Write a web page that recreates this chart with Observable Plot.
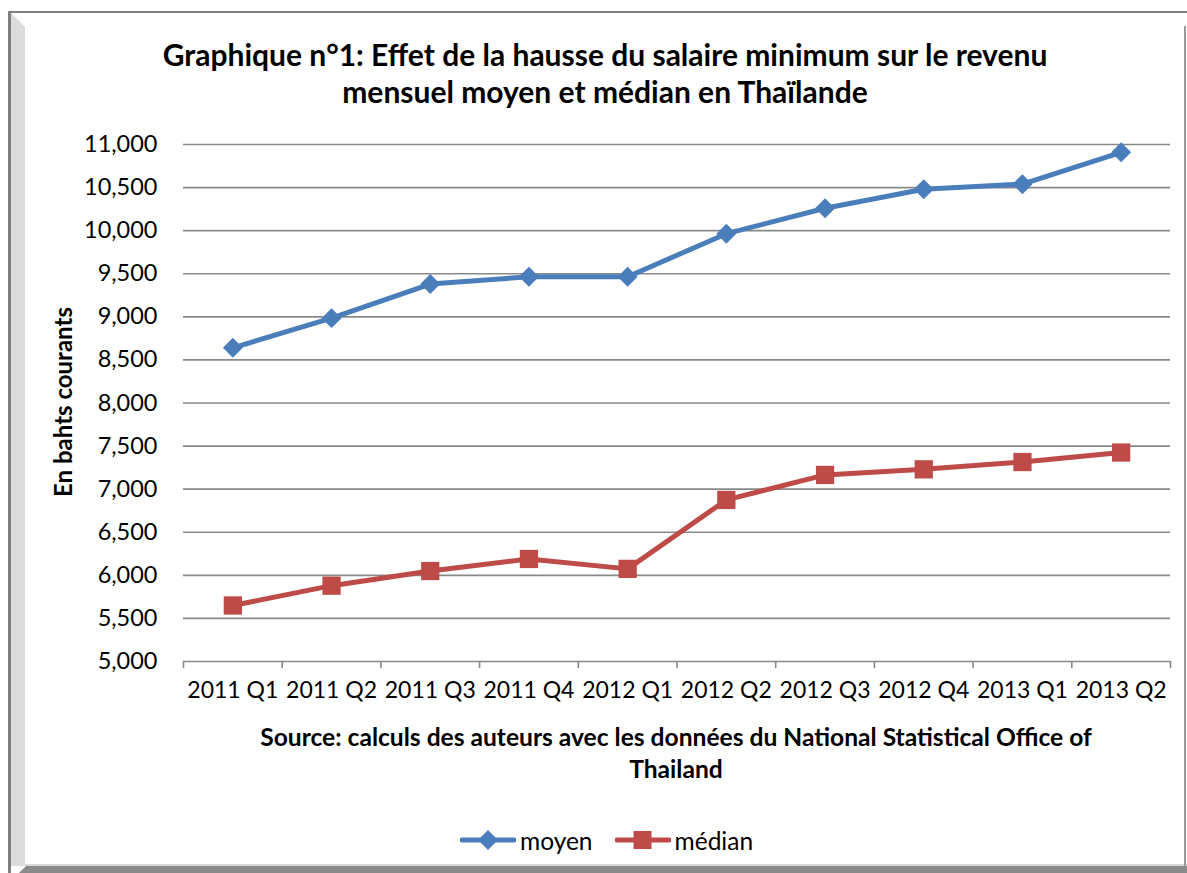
<!DOCTYPE html>
<html>
<head>
<meta charset="utf-8">
<script src="https://cdn.jsdelivr.net/npm/d3@7"></script>
<script src="https://cdn.jsdelivr.net/npm/@observablehq/plot@0.6"></script>
<style>
  html, body { margin: 0; padding: 0; background: #fff; }
  #wrap { position: relative; width: 1187px; height: 873px; overflow: hidden; font-family: Lato, "Open Sans", sans-serif; color: #000; }
  #deco { position: absolute; left: 0; top: 0; }
  #chart { position: absolute; left: 0; top: 0; }
  .title { position: absolute; left: 55px; width: 1100px; top: 36px; text-align: center; font-weight: bold; font-size: 30px; line-height: 37px; }
  .ylab { position: absolute; left: 62px; top: 402px; transform: translate(-50%, -50%) rotate(-90deg); white-space: nowrap; font-weight: bold; font-size: 24px; }
  .src { position: absolute; left: 126px; width: 1100px; top: 721px; text-align: center; font-weight: bold; font-size: 24.6px; line-height: 32px; }
  .legend { position: absolute; left: 460px; top: 824px; height: 32px; display: flex; align-items: center; font-size: 24.5px; }
  .legend svg { display: block; }
</style>
</head>
<body>
<div id="wrap">
  <svg id="deco" width="1187" height="873">
    <rect x="8" y="11" width="1179" height="2" fill="#7f7f7f"/>
    <rect x="8" y="11" width="3" height="862" fill="#7f7f7f"/>
    <polygon points="11,13 25,27 25,866 11,866" fill="#dcdcdc"/>
    <polygon points="19,873 26,866 1187,866 1187,873" fill="#8a8a8a"/>
    <rect x="25" y="864" width="1162" height="2" fill="#d8d8d8"/>
    <rect x="1184" y="26" width="2" height="840" fill="#9a9a9a"/>
  </svg>
  <div id="chart"></div>
  <div class="title">Graphique n°1: Effet de la hausse du salaire minimum sur le revenu<br>mensuel moyen et médian en Thaïlande</div>
  <div class="ylab">En bahts courants</div>
  <div class="src">Source: calculs des auteurs avec les données du National Statistical Office of<br>Thailand</div>
  <div class="legend" id="legend"></div>
</div>
<script>
const quarters = ["2011 Q1", "2011 Q2", "2011 Q3", "2011 Q4", "2012 Q1", "2012 Q2", "2012 Q3", "2012 Q4", "2013 Q1", "2013 Q2"];
const moyen = [8640, 8985, 9380, 9465, 9465, 9965, 10260, 10480, 10540, 10910];
const median = [5650, 5880, 6050, 6190, 6075, 6875, 7165, 7230, 7315, 7425];
const yTicks = [5000, 5500, 6000, 6500, 7000, 7500, 8000, 8500, 9000, 9500, 10000, 10500, 11000];
const seriesNames = ["moyen", "médian"];
const colors = ["#4A7EBB", "#BE4B48"];

const rows = quarters.map((q, i) => ({i, q, moyen: moyen[i], median: median[i]}));
const idx = quarters.map((_, i) => i);
const bounds = quarters.map((_, i) => i - 0.5).concat([quarters.length - 0.5]);

const chart = Plot.plot({
  width: 1187,
  height: 873,
  marginTop: 144,
  marginBottom: 212,
  marginLeft: 183,
  marginRight: 17,
  style: {fontFamily: "Lato, 'Open Sans', sans-serif", background: "none", color: "#000"},
  x: {domain: [-0.5, quarters.length - 0.5], axis: null},
  y: {domain: [yTicks[0], yTicks[yTicks.length - 1]], axis: null},
  marks: [
    Plot.gridY(yTicks, {stroke: "#898989", strokeOpacity: 1, strokeWidth: 1.6}),
    Plot.axisY(yTicks, {tickSize: 0, tickPadding: 26, tickFormat: d3.format(","), fontSize: 23.5, label: null}),
    Plot.axisX(bounds, {tickSize: 7, tickFormat: () => "", stroke: "#898989", strokeWidth: 1.6, label: null}),
    Plot.axisX(idx, {tickSize: 0, tickPadding: 20, tickFormat: i => quarters[i], fontSize: 23, label: null}),
    Plot.line(rows, {x: "i", y: "moyen", stroke: colors[0], strokeWidth: 5}),
    Plot.dot(rows, {x: "i", y: "moyen", symbol: "diamond2", r: 9, fill: colors[0], stroke: "none"}),
    Plot.line(rows, {x: "i", y: "median", stroke: colors[1], strokeWidth: 5}),
    Plot.dot(rows, {x: "i", y: "median", symbol: "square", r: 10.3, fill: colors[1], stroke: "none"})
  ]
});
document.getElementById("chart").appendChild(chart);

// legend
const leg = document.getElementById("legend");
const shapes = [
  (c) => `<polygon points="28,2 38,12 28,22 18,12" fill="${c}"/>`,
  (c) => `<rect x="18.5" y="3" width="18" height="18" fill="${c}"/>`
];
seriesNames.forEach((name, k) => {
  const sw = document.createElementNS("http://www.w3.org/2000/svg", "svg");
  sw.setAttribute("width", 56);
  sw.setAttribute("height", 24);
  sw.innerHTML = `<line x1="2" y1="12" x2="54" y2="12" stroke="${colors[k]}" stroke-width="5" stroke-linecap="round"/>` + shapes[k](colors[k]);
  const lab = document.createElement("span");
  lab.textContent = name;
  lab.style.marginLeft = "4px";
  lab.style.marginRight = k === 0 ? "22px" : "0";
  leg.appendChild(sw);
  leg.appendChild(lab);
});
</script>
</body>
</html>
